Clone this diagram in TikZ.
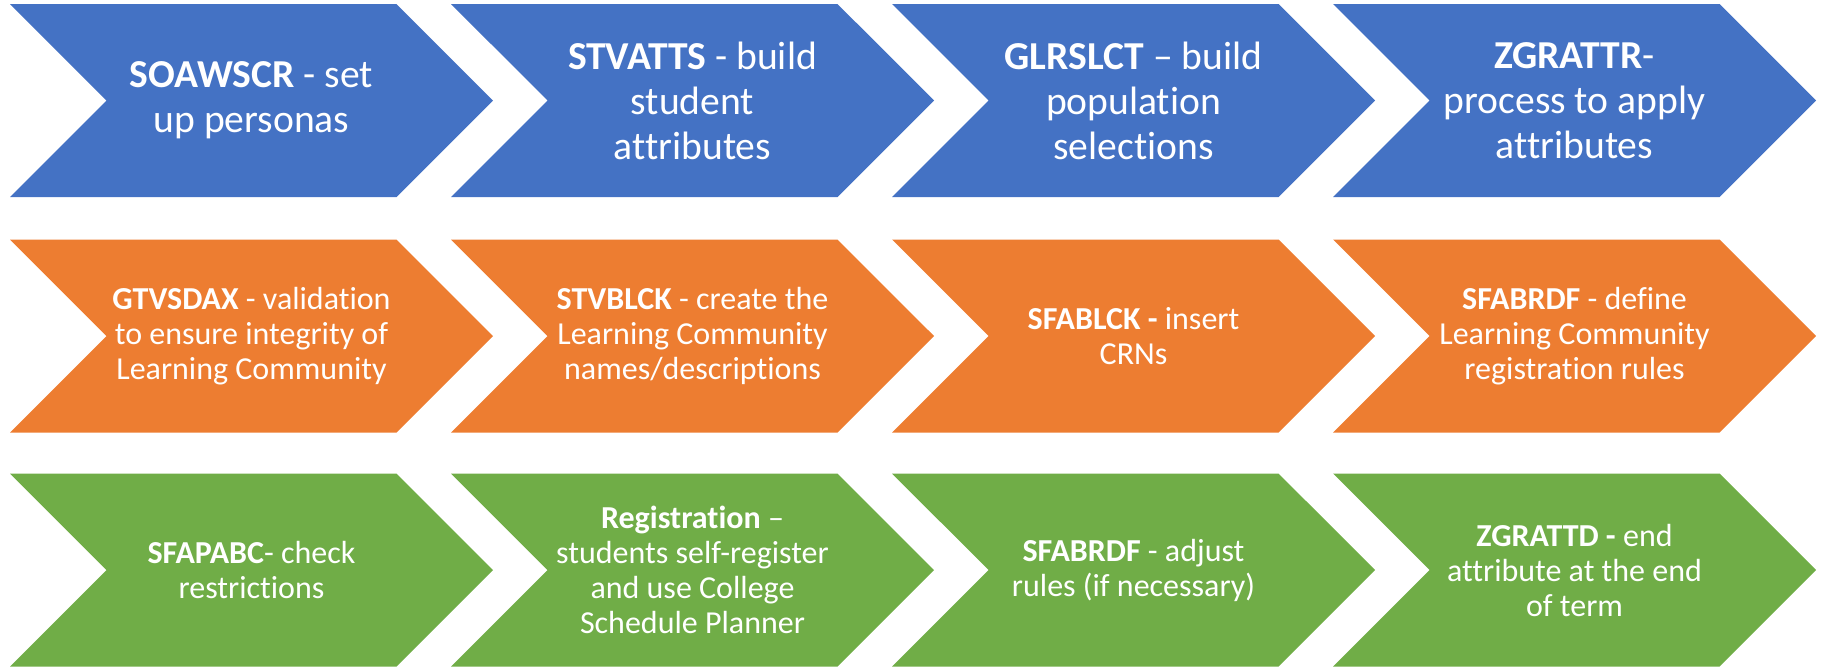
\documentclass[tikz,border=0pt]{standalone}
\usepackage{fontspec}
\setmainfont[Ligatures={TeX,NoCommon}]{Carlito}
\usepackage{xcolor}
\usepackage{tikz}
\usetikzlibrary{shapes.symbols}

\definecolor{stepblue}{HTML}{4472C4}
\definecolor{steporange}{HTML}{ED7D31}
\definecolor{stepgreen}{HTML}{70AD47}

\tikzset{
  chevron/.style={signal, signal to=east, signal from=west, signal pointer angle=90,
    minimum width=241.5pt, minimum height=96.5pt, inner sep=0pt,
    text=white, align=center},
  bigtext/.style={font=\fontsize{19.8}{22.5}\selectfont},
  smalltext/.style={font=\fontsize{16}{17.5}\selectfont}
}

\begin{document}
\begin{tikzpicture}[x=0.5pt, y=-0.5pt]
\useasboundingbox (0,0) rectangle (1825,666);
% row 1
\node[chevron, bigtext, fill=stepblue] (soawscr) at (251.5,100.5) {\textbf{SOAWSCR} - set\\up personas};
\node[chevron, bigtext, fill=stepblue] (stvatts) at (692.5,100.5) {\textbf{STVATTS} - build\\student\\attributes};
\node[chevron, bigtext, fill=stepblue] (glrslct) at (1133.5,100.5) {\textbf{GLRSLCT} – build\\population\\selections};
\node[chevron, bigtext, fill=stepblue] (zgrattr) at (1574.5,100.5) {\textbf{ZGRATTR}-\\process to apply\\attributes};
% row 2
\node[chevron, smalltext, fill=steporange] (gtvsdax) at (251.5,336) {\textbf{GTVSDAX} - validation\\to ensure integrity of\\Learning Community};
\node[chevron, smalltext, fill=steporange] (stvblck) at (692.5,336) {\textbf{STVBLCK} - create the\\Learning Community\\names/descriptions};
\node[chevron, smalltext, fill=steporange] (sfablck) at (1133.5,336) {\textbf{SFABLCK -} insert\\CRNs};
\node[chevron, smalltext, fill=steporange] (sfabrdf) at (1574.5,336) {\textbf{SFABRDF} - define\\Learning Community\\registration rules};
% row 3
\node[chevron, smalltext, fill=stepgreen] (sfapabc) at (251.5,570) {\textbf{SFAPABC}- check\\restrictions};
\node[chevron, smalltext, fill=stepgreen] (regist) at (692.5,570) {\textbf{Registration} –\\students self-register\\and use College\\Schedule Planner};
\node[chevron, smalltext, fill=stepgreen] (sfabrdfadj) at (1133.5,570) {\textbf{SFABRDF} - adjust\\rules (if necessary)};
\node[chevron, smalltext, fill=stepgreen] (zgrattd) at (1574.5,570) {\textbf{ZGRATTD -} end\\attribute at the end\\of term};
\end{tikzpicture}
\end{document}
